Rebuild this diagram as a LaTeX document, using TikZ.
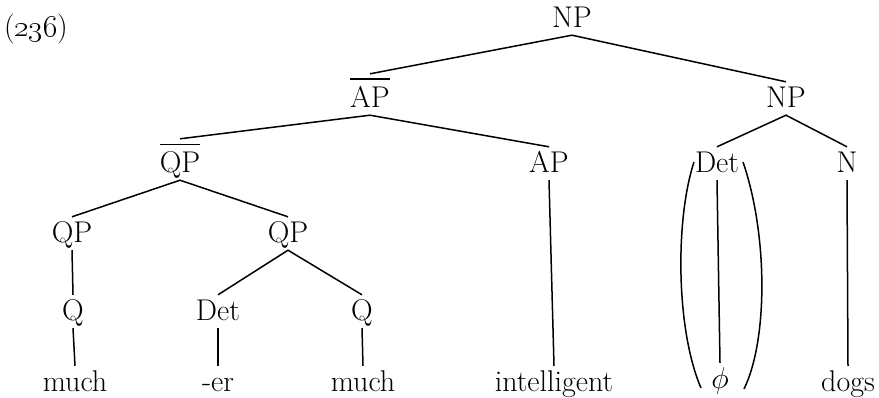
\RequirePackage{fix-cm}
\documentclass[tikz,border=0pt]{standalone}
\newcommand{\xbar}[1]{\vbox{\hrule height 1.4pt\kern6pt\hbox{#1}}}
\begin{document}
\begin{tikzpicture}[x=1pt,y=-1pt,
  tn/.style={anchor=base, inner xsep=0pt, inner ysep=5pt, text height=20pt, text depth=3pt, font=\fontsize{30}{33}\selectfont},
  bn/.style={tn, text height=28pt},
  ln/.style={line width=1.5pt}]
\useasboundingbox (0,0) rectangle (879,397);
\node[tn] (lbl) at (36,36) {(\oldstylenums{236})};
\node[tn] (np0) at (572,27) {NP};
\node[bn] (apbar) at (370,107) {\xbar{AP}};
\node[tn] (np1) at (786,107) {NP};
\node[bn] (qpbar) at (180,172) {\xbar{QP}};
\node[tn] (ap) at (549,172) {AP};
\node[tn] (det1) at (717,172) {Det};
\node[tn] (n) at (847,172) {N};
\node[tn] (qp1) at (72,242) {QP};
\node[tn] (qp2) at (288,242) {QP};
\node[tn] (q1) at (73,320) {Q};
\node[tn] (det2) at (218,320) {Det};
\node[tn] (q2) at (362,320) {Q};
\node[tn] (w1) at (75,391) {much};
\node[tn] (w2) at (218,391) {-er};
\node[tn] (w3) at (363,391) {much};
\node[tn] (w4) at (554,391) {intelligent};
\node[tn] (w5) at (720,388) {$\phi$};
\node[tn] (w6) at (848,391) {dogs};
\draw[ln] (apbar.north) -- (np0.south) -- (np1.north);
\draw[ln] (qpbar.north) -- (apbar.south) -- (ap.north);
\draw[ln] (det1.north) -- (np1.south) -- (n.north);
\draw[ln] (qp1.north) -- (qpbar.south) -- (qp2.north);
\draw[ln] (det2.north) -- (qp2.south) -- (q2.north);
\draw[ln] (qp1.south) -- (q1.north);
\draw[ln] (q1.south) -- (w1.north);
\draw[ln] (det2.south) -- (w2.north);
\draw[ln] (q2.south) -- (w3.north);
\draw[ln] (ap.south) -- (w4.north);
\draw[ln] (det1.south) -- (w5.north);
\draw[ln] (n.south) -- (w6.north);
\draw[ln] (694,162) .. controls (675,220) and (676,330) .. (701,388);
\draw[ln] (743,162) .. controls (768,235) and (768,340) .. (744,389);
\end{tikzpicture}
\end{document}
